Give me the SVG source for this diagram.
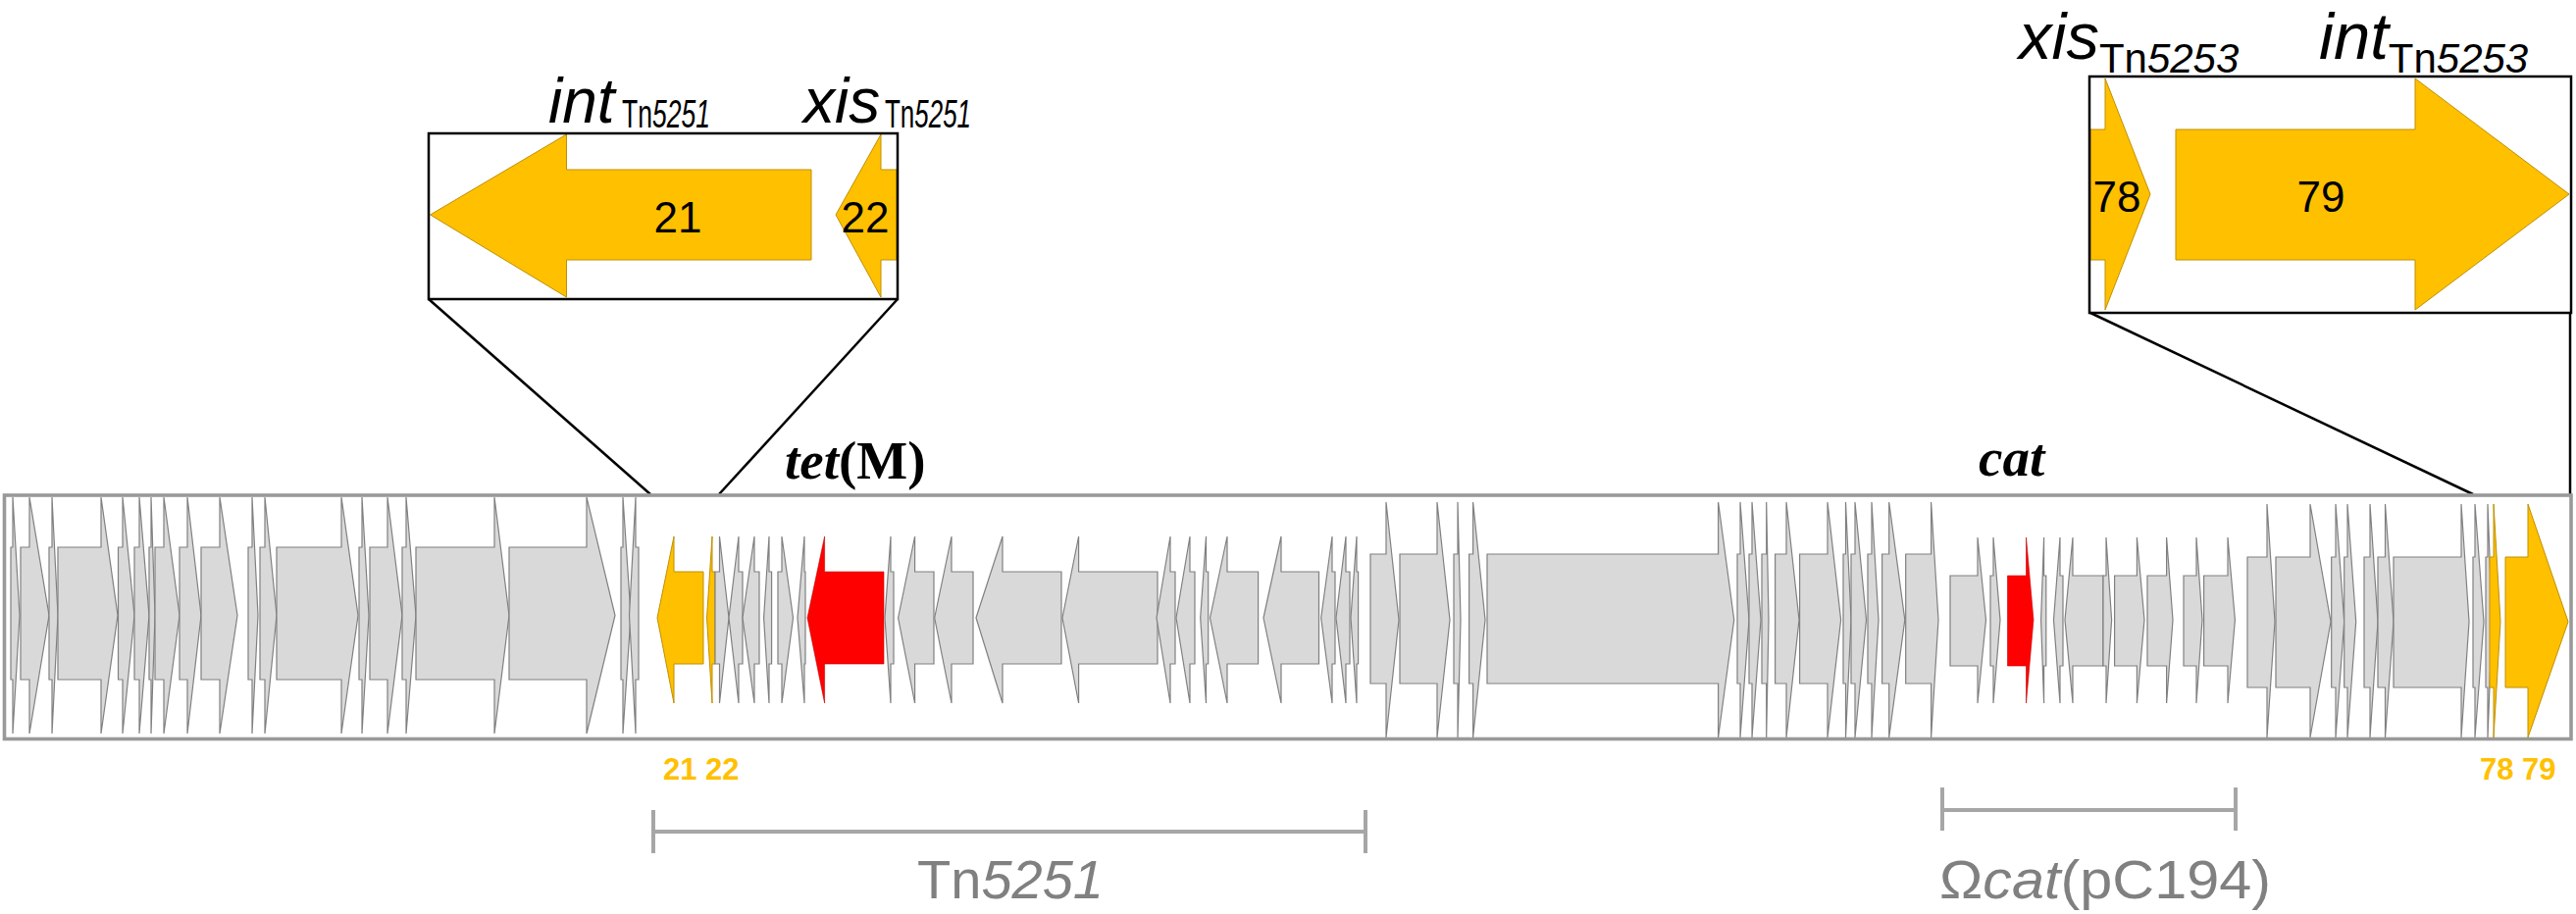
<svg xmlns="http://www.w3.org/2000/svg" width="2626" height="932" viewBox="0 0 2626 932">
<style>
.g{fill:#d9d9d9;stroke:#808080;stroke-width:1.2}
.y{fill:#ffc000;stroke:#bf9000;stroke-width:1}
.r{fill:#ff0000;stroke:#c00000;stroke-width:0.6}
.zb{fill:none;stroke:#000;stroke-width:2.5}
.ln{stroke:#000;stroke-width:2.5;fill:none}
.trk{fill:none;stroke:#999999;stroke-width:3.6}
.br{stroke:#a6a6a6;stroke-width:4;fill:none}
.lab{font-family:"Liberation Sans",Arial,sans-serif;fill:#000}
.num{font-family:"Liberation Sans",Arial,sans-serif;font-size:44px;fill:#000;text-anchor:middle}
.gold{font-family:"Liberation Sans",Arial,sans-serif;font-size:31px;font-weight:bold;fill:#ffc000}
.gl{font-family:"Liberation Sans",Arial,sans-serif;font-size:56px;fill:#808080}
.tm{font-family:"Liberation Serif","Times New Roman",serif;font-size:55px;font-weight:bold;fill:#000}
</style>

<g id="connectors">
<line class="ln" x1="437" y1="305" x2="663" y2="504"/>
<line class="ln" x1="915" y1="305" x2="733" y2="504"/>
<line class="ln" x1="2131" y1="319" x2="2521" y2="504"/>
<line class="ln" x1="2620" y1="319" x2="2620" y2="505"/>
</g>

<g id="zoom-left">
<polygon class="y" points="438.6,219 577.5,137 577.5,173 827,173 827,265 577.5,265 577.5,303"/>
<polygon class="y" points="852,219 898,137 898,173 914,173 914,265 898,265 898,303"/>
<rect class="zb" x="437" y="136" width="478" height="169"/>
<text class="num" x="691" y="237">21</text>
<text class="num" x="882" y="237">22</text>
<text class="lab" x="559" y="125" font-size="64" font-style="italic">int</text>
<text class="lab" x="634" y="130" font-size="40" textLength="90" lengthAdjust="spacingAndGlyphs">Tn<tspan font-style="italic">5251</tspan></text>
<text class="lab" x="819" y="125" font-size="64" font-style="italic">xis</text>
<text class="lab" x="902" y="130" font-size="40" textLength="88" lengthAdjust="spacingAndGlyphs">Tn<tspan font-style="italic">5251</tspan></text>
</g>

<g id="zoom-right">
<polygon class="y" points="2131,132 2146,132 2146,80 2192,198 2146,316 2146,265 2131,265"/>
<polygon class="y" points="2218,132 2462,132 2462,80 2619,198 2462,316 2462,265 2218,265"/>
<rect class="zb" x="2130" y="78" width="491" height="241"/>
<text class="num" x="2158" y="216">78</text>
<text class="num" x="2366" y="216">79</text>
<text class="lab" x="2058" y="60" font-size="67" font-style="italic">xis<tspan font-size="42" font-style="normal" dy="14">Tn<tspan font-style="italic">5253</tspan></tspan></text>
<text class="lab" x="2364" y="60" font-size="67" font-style="italic">int<tspan font-size="42" font-style="normal" dy="14">Tn<tspan font-style="italic">5253</tspan></tspan></text>
</g>

<g id="track">
<rect class="trk" x="4.5" y="505" width="2616.5" height="248.5"/>
<g id="seg1">
<polygon class="g" points="11,558 13,558 13,507 20,627.5 13,748 13,693 11,693"/>
<polygon class="g" points="21,558 30,558 30,507 50,627.5 30,748 30,693 21,693"/>
<polygon class="g" points="50,558 53,558 53,507 59,627.5 53,748 53,693 50,693"/>
<polygon class="g" points="59,558 103,558 103,507 120,627.5 103,748 103,693 59,693"/>
<polygon class="g" points="120.5,558 125,558 125,507 137,627.5 125,748 125,693 120.5,693"/>
<polygon class="g" points="137,558 142,558 142,507 152,627.5 142,748 142,693 137,693"/>
<polygon class="g" points="152,558 154,558 154,507 158,627.5 154,748 154,693 152,693"/>
<polygon class="g" points="158,558 167,558 167,507 183,627.5 167,748 167,693 158,693"/>
<polygon class="g" points="183,558 191,558 191,507 205,627.5 191,748 191,693 183,693"/>
<polygon class="g" points="205,558 224,558 224,507 242,627.5 224,748 224,693 205,693"/>
<polygon class="g" points="253,558 257,558 257,507 263,627.5 257,748 257,693 253,693"/>
<polygon class="g" points="265,558 270,558 270,507 282,627.5 270,748 270,693 265,693"/>
<polygon class="g" points="282,558 348,558 348,507 365,627.5 348,748 348,693 282,693"/>
<polygon class="g" points="366,558 369,558 369,507 376,627.5 369,748 369,693 366,693"/>
<polygon class="g" points="377,558 395,558 395,507 410,627.5 395,748 395,693 377,693"/>
<polygon class="g" points="410,558 414,558 414,507 424,627.5 414,748 414,693 410,693"/>
<polygon class="g" points="424,558 504,558 504,507 519,627.5 504,748 504,693 424,693"/>
<polygon class="g" points="519,558 598,558 598,507 627,627.5 598,748 598,693 519,693"/>
<polygon class="g" points="633,558 635,558 635,507 643,627.5 635,748 635,693 633,693"/>
<polygon class="g" points="641.5,627.5 648,507 648,558 651,558 651,693 648,693 648,748"/>
</g>
<g id="seg2">
<polygon class="y" points="670,630 687,547 687,583 717,583 717,677 687,677 687,717"/>
<polygon class="y" points="720.5,630 726,547 726,583 729,583 729,677 726,677 726,717"/>
<polygon class="g" points="729,583 733.5,583 733.5,547 743,630 733.5,717 733.5,677 729,677"/>
<polygon class="g" points="743,630 753,547 753,583 757,583 757,677 753,677 753,717"/>
<polygon class="g" points="757,630 769,547 769,583 774,583 774,677 769,677 769,717"/>
<polygon class="g" points="778.6,630 784,547 784,583 786.6,583 786.6,677 784,677 784,717"/>
<polygon class="g" points="793,583 797,583 797,547 808.5,630 797,717 797,677 793,677"/>
<polygon class="g" points="813,630 820,547 820,583 821,583 821,677 820,677 820,717"/>
<polygon class="r" points="823,630 840.6,547 840.6,583 901,583 901,677 840.6,677 840.6,717"/>
<polygon class="g" points="902,630 908,547 908,583 911,583 911,677 908,677 908,717"/>
<polygon class="g" points="915.6,630 932.6,547 932.6,583 952,583 952,677 932.6,677 932.6,717"/>
<polygon class="g" points="952.7,630 970,547 970,583 992,583 992,677 970,677 970,717"/>
<polygon class="g" points="995,630 1022,547 1022,583 1082,583 1082,677 1022,677 1022,717"/>
<polygon class="g" points="1083,630 1099.6,547 1099.6,583 1180,583 1180,677 1099.6,677 1099.6,717"/>
<polygon class="g" points="1179,630 1193,547 1193,583 1198,583 1198,677 1193,677 1193,717"/>
<polygon class="g" points="1199,630 1213,547 1213,583 1218,583 1218,677 1213,677 1213,717"/>
<polygon class="g" points="1223.7,630 1229.5,547 1229.5,583 1231.7,583 1231.7,677 1229.5,677 1229.5,717"/>
<polygon class="g" points="1233.5,630 1251,547 1251,583 1282.6,583 1282.6,677 1251,677 1251,717"/>
<polygon class="g" points="1288,630 1306,547 1306,583 1344.5,583 1344.5,677 1306,677 1306,717"/>
<polygon class="g" points="1346.7,630 1358,547 1358,583 1361,583 1361,677 1358,677 1358,717"/>
<polygon class="g" points="1362,630 1372,547 1372,583 1376,583 1376,677 1372,677 1372,717"/>
<polygon class="g" points="1377,630 1383,547 1383,583 1384.6,583 1384.6,677 1383,677 1383,717"/>
</g>
<g id="seg3">
<polygon class="g" points="1397,565 1413,565 1413,512 1426,632 1413,752 1413,697 1397,697"/>
<polygon class="g" points="1427,565 1465,565 1465,512 1478,632 1465,752 1465,697 1427,697"/>
<polygon class="g" points="1482,565 1486,565 1486,512 1489,632 1486,752 1486,697 1482,697"/>
<polygon class="g" points="1497.6,565 1501.6,565 1501.6,512 1514,632 1501.6,752 1501.6,697 1497.6,697"/>
<polygon class="g" points="1516,565 1751.6,565 1751.6,512 1767.7,632 1751.6,752 1751.6,697 1516,697"/>
<polygon class="g" points="1771,565 1774,565 1774,512 1783,632 1774,752 1774,697 1771,697"/>
<polygon class="g" points="1783,565 1786,565 1786,512 1795,632 1786,752 1786,697 1783,697"/>
<polygon class="g" points="1796,565 1800.7,565 1800.7,512 1803,632 1800.7,752 1800.7,697 1796,697"/>
<polygon class="g" points="1809.6,565 1821,565 1821,512 1834,632 1821,752 1821,697 1809.6,697"/>
<polygon class="g" points="1834.6,565 1863,565 1863,512 1876.6,632 1863,752 1863,697 1834.6,697"/>
<polygon class="g" points="1879,565 1881.5,565 1881.5,512 1887,632 1881.5,752 1881.5,697 1879,697"/>
<polygon class="g" points="1887,565 1891,565 1891,512 1902.5,632 1891,752 1891,697 1887,697"/>
<polygon class="g" points="1904,565 1908,565 1908,512 1915,632 1908,752 1908,697 1904,697"/>
<polygon class="g" points="1918.6,565 1925.7,565 1925.7,512 1941.8,632 1925.7,752 1925.7,697 1918.6,697"/>
<polygon class="g" points="1942.7,565 1968.6,565 1968.6,512 1976,632 1968.6,752 1968.6,697 1942.7,697"/>
</g>
<g id="seg4">
<polygon class="g" points="1988,587 2016,587 2016,548 2024.5,632 2016,717 2016,679 1988,679"/>
<polygon class="g" points="2029,587 2032,587 2032,548 2039,632 2032,717 2032,679 2029,679"/>
<polygon class="r" points="2046.5,587 2065.5,587 2065.5,548 2073,632 2065.5,717 2065.5,679 2046.5,679"/>
<polygon class="g" points="2080.6,632 2083.6,548 2083.6,587 2085.8,587 2085.8,679 2083.6,679 2083.6,717"/>
<polygon class="g" points="2093.5,632 2100,548 2100,587 2103,587 2103,679 2100,679 2100,717"/>
<polygon class="g" points="2105,632 2113,548 2113,587 2144,587 2144,679 2113,679 2113,717"/>
<polygon class="g" points="2144,587 2147,587 2147,548 2152.6,632 2147,717 2147,679 2144,679"/>
<polygon class="g" points="2155.6,587 2178.4,587 2178.4,548 2186,632 2178.4,717 2178.4,679 2155.6,679"/>
<polygon class="g" points="2189,587 2208.6,587 2208.6,548 2215,632 2208.6,717 2208.6,679 2189,679"/>
<polygon class="g" points="2226,587 2239,587 2239,548 2245,632 2239,717 2239,679 2226,679"/>
<polygon class="g" points="2246.6,587 2271,587 2271,548 2278.4,632 2271,717 2271,679 2246.6,679"/>
</g>
<g id="seg5">
<polygon class="g" points="2291,568 2311,568 2311,514 2319,634 2311,752 2311,701 2291,701"/>
<polygon class="g" points="2320,568 2355,568 2355,514 2376,634 2355,752 2355,701 2320,701"/>
<polygon class="g" points="2376.7,568 2381,568 2381,514 2389.7,634 2381,752 2381,701 2376.7,701"/>
<polygon class="g" points="2389.7,568 2393,568 2393,514 2401.7,634 2393,752 2393,701 2389.7,701"/>
<polygon class="g" points="2410,568 2416,568 2416,514 2424,634 2416,752 2416,701 2410,701"/>
<polygon class="g" points="2424,568 2431.5,568 2431.5,514 2440,634 2431.5,752 2431.5,701 2424,701"/>
<polygon class="g" points="2440,568 2509,568 2509,514 2517,634 2509,752 2509,701 2440,701"/>
<polygon class="g" points="2521,568 2523,568 2523,514 2532,634 2523,752 2523,701 2521,701"/>
<polygon class="g" points="2534,568 2536,568 2536,514 2540.5,634 2536,752 2536,701 2534,701"/>
<polygon class="y" points="2538,568 2542,568 2542,514 2549,634 2542,752 2542,701 2538,701"/>
<polygon class="y" points="2554,568 2577,568 2577,514 2618,634 2577,752 2577,701 2554,701"/>
</g>
</g>

<g id="gene-labels">
<text class="tm" x="800" y="488"><tspan font-style="italic">tet</tspan>(M)</text>
<text class="tm" x="2017" y="485" font-style="italic">cat</text>
<text class="gold" x="676" y="795">21 22</text>
<text class="gold" x="2528" y="795">78 79</text>
</g>

<g id="brackets">
<line class="br" x1="666" y1="848" x2="1392" y2="848"/>
<line class="br" x1="666" y1="826" x2="666" y2="870"/>
<line class="br" x1="1392" y1="826" x2="1392" y2="870"/>
<text class="gl" x="1030" y="916" text-anchor="middle">Tn<tspan font-style="italic">5251</tspan></text>
<line class="br" x1="1980" y1="826" x2="2279" y2="826"/>
<line class="br" x1="1980" y1="803" x2="1980" y2="847"/>
<line class="br" x1="2279" y1="803" x2="2279" y2="847"/>
<text class="gl" x="1977" y="916" textLength="338" lengthAdjust="spacingAndGlyphs">Ω<tspan font-style="italic">cat</tspan>(pC194)</text>
</g>
</svg>
